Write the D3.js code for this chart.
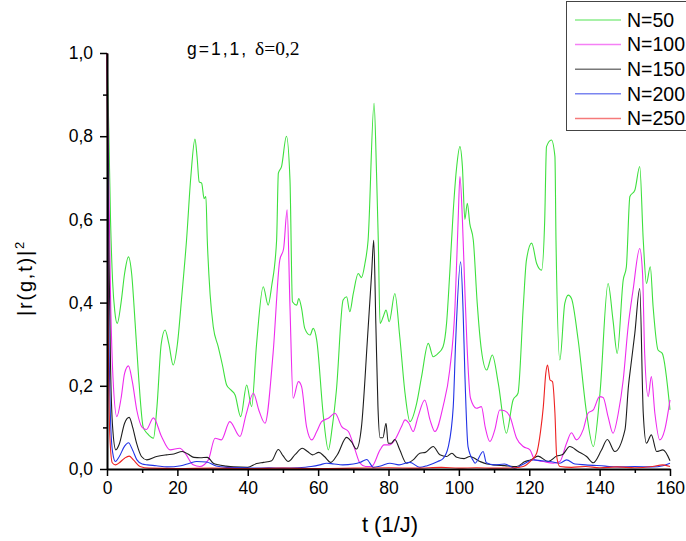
<!DOCTYPE html>
<html>
<head>
<meta charset="utf-8">
<script src="https://cdn.jsdelivr.net/npm/d3@7"></script>
<style>
  body { margin: 0; background: #fff; }
  svg { display: block; font-family: Arial, 'Liberation Sans', sans-serif; }
  .axis path, .axis line { stroke: #000; }
  .axis text { font-size: 17.5px; fill: #000; }
</style>
</head>
<body>
<svg id="chart"></svg>
<script>
// |r(g,t)|^2 versus t, one series per chain length N: [t, value]
const seriesNames = ['N=50', 'N=100', 'N=150', 'N=200', 'N=250'];
const seriesColors = ['#3ee03e', '#ee2cee', '#1e1e1e', '#2233e6', '#ee2222'];

const n50 = [[0,1.0],[0.5,0.82],[1,0.6],[1.6,0.45],[2.2,0.38],[2.9,0.35],[4,0.4],[5,0.47],[6.1,0.51],[7,0.47],[8,0.35],[9,0.22],[10.3,0.1],[11.5,0.085],[13.2,0.074],[14.2,0.15],[15.4,0.3],[16.5,0.334],[17.6,0.3],[18.8,0.25],[20,0.3],[21.3,0.42],[22.6,0.55],[23.8,0.7],[25,0.793],[25.6,0.75],[26.2,0.69],[26.9,0.687],[27.6,0.65],[28.1,0.655],[28.5,0.55],[29.3,0.42],[30.2,0.342],[31.6,0.294],[32.8,0.25],[34,0.202],[35.2,0.19],[36.4,0.178],[38,0.126],[39.7,0.202],[41.1,0.15],[42.5,0.3],[44.4,0.438],[45.8,0.394],[46.8,0.44],[48.2,0.55],[48.7,0.711],[49.6,0.727],[51,0.8],[52,0.695],[52.7,0.402],[53.9,0.394],[54.5,0.41],[55.3,0.386],[56.2,0.338],[57.7,0.322],[58.6,0.338],[59.6,0.31],[61.5,0.126],[62.9,0.046],[64,0.1],[65.2,0.19],[67.1,0.406],[68.1,0.414],[69,0.378],[70,0.422],[71.4,0.47],[72.3,0.46],[73.3,0.494],[74.2,0.55],[75.9,0.879],[76.6,0.711],[77.1,0.55],[77.6,0.35],[78.5,0.366],[79.3,0.382],[80.2,0.354],[81.8,0.422],[83.2,0.318],[84.7,0.182],[86.1,0.114],[88,0.158],[89.4,0.222],[91.3,0.302],[92.7,0.27],[94.1,0.278],[95.5,0.294],[96.5,0.35],[97.4,0.47],[98.4,0.62],[99.3,0.72],[100.3,0.775],[101,0.727],[101.7,0.6],[102.4,0.639],[103.1,0.59],[104.1,0.55],[105.2,0.4],[106.4,0.286],[107.9,0.238],[109.5,0.274],[111.2,0.206],[113.5,0.086],[115.4,0.166],[116.8,0.182],[118.3,0.39],[119.2,0.502],[120.7,0.543],[122.1,0.494],[123.5,0.478],[124.4,0.6],[124.9,0.775],[126.3,0.791],[127.3,0.751],[127.6,0.55],[128.7,0.262],[130.1,0.398],[131.1,0.418],[132,0.41],[133.9,0.31],[136.3,0.134],[138.2,0.054],[140.1,0.182],[142.4,0.446],[143.8,0.358],[145,0.278],[146.7,0.454],[147.6,0.486],[148.6,0.655],[150,0.67],[151.4,0.727],[152.4,0.55],[153.3,0.446],[154.4,0.486],[155.2,0.39],[156.6,0.286],[157.8,0.278],[160,0.142]];

const n100 = [[0,1.0],[0.5,0.7],[1,0.42],[1.7,0.22],[2.8,0.126],[4,0.17],[5,0.23],[6.1,0.248],[7.2,0.21],[8.5,0.14],[10,0.1],[11.2,0.095],[13.2,0.123],[15.5,0.078],[17.9,0.046],[20.7,0.05],[22.2,0.038],[24.5,0.01],[26.4,0.006],[28.8,0.022],[30.7,0.074],[32.5,0.07],[34.9,0.114],[37.8,0.078],[39.5,0.13],[41.6,0.182],[43.2,0.14],[44.9,0.11],[47.2,0.278],[49.1,0.502],[50.2,0.53],[51.2,0.623],[52,0.39],[52.9,0.17],[54.4,0.21],[55.3,0.198],[56.7,0.102],[58.2,0.07],[59.6,0.09],[61,0.114],[62.9,0.122],[64.8,0.134],[66.7,0.102],[68.6,0.09],[70.5,0.046],[71.9,0.014],[73.5,0.006],[75.2,0.006],[77.6,0.046],[78.7,0.058],[80.2,0.058],[81.8,0.07],[83.7,0.102],[84.7,0.118],[85.8,0.11],[87,0.09],[88.4,0.126],[90.3,0.166],[91.8,0.118],[93.2,0.09],[95.5,0.15],[97.4,0.238],[98.9,0.39],[99.8,0.6],[100.3,0.703],[101,0.6],[101.7,0.43],[102.3,0.3],[103.3,0.17],[105,0.146],[106.4,0.15],[107.5,0.1],[108.8,0.066],[110.2,0.094],[111.6,0.142],[113,0.14],[114.5,0.126],[116.4,0.074],[118.3,0.054],[120.2,0.046],[121.6,0.022],[124,0.018],[126.8,0.014],[128.7,0.018],[130.6,0.062],[132,0.087],[133.4,0.07],[135.3,0.094],[136.7,0.134],[138.2,0.142],[140,0.174],[141,0.172],[142.4,0.126],[143.8,0.086],[145.3,0.134],[146.7,0.214],[148.1,0.342],[149.5,0.43],[151.4,0.53],[152.2,0.47],[152.8,0.278],[153.8,0.174],[154.7,0.222],[155.7,0.134],[157.1,0.07],[158.5,0.094],[160,0.166]];

const n150 = [[0,1.0],[0.5,0.55],[1,0.25],[1.6,0.1],[2.5,0.046],[3.5,0.06],[5,0.11],[6.3,0.124],[7.3,0.1],[8.4,0.062],[9.8,0.03],[11.3,0.022],[14.1,0.03],[16.9,0.034],[19,0.036],[21.4,0.042],[23,0.036],[24.7,0.028],[26.5,0.027],[28.5,0.028],[30.2,0.014],[31.6,0.01],[33.8,0.007],[36,0.005],[40,0.004],[42.5,0.013],[44.5,0.016],[46.8,0.02],[48.7,0.047],[50,0.032],[51.5,0.018],[53.5,0.035],[55.5,0.05],[57,0.042],[58.4,0.034],[60.2,0.04],[61.8,0.03],[63.6,0.016],[65.5,0.035],[68.1,0.076],[69.5,0.065],[70.9,0.048],[72.3,0.1],[74,0.31],[75.2,0.47],[75.8,0.55],[76.4,0.35],[77,0.15],[77.6,0.075],[78.4,0.075],[79.3,0.11],[79.9,0.062],[80.8,0.062],[81.8,0.071],[83.2,0.046],[85.1,0.014],[87,0.022],[88.9,0.038],[90.5,0.04],[92.7,0.054],[94.6,0.034],[96.5,0.03],[98,0.038],[99.4,0.028],[101.5,0.025],[103.1,0.03],[106,0.018],[108,0.012],[109.8,0.01],[113,0.008],[116.4,0.006],[118.8,0.018],[120.5,0.022],[122.5,0.031],[125.4,0.018],[127.8,0.031],[129.5,0.035],[131.5,0.054],[133.9,0.042],[136.3,0.03],[138.2,0.015],[140.5,0.045],[142.2,0.071],[144.3,0.042],[147.2,0.094],[148.2,0.2],[148.9,0.25],[150,0.326],[151.4,0.434],[152.4,0.134],[153.3,0.062],[154.7,0.082],[156.2,0.042],[158,0.046],[160,0.02]];

const n200 = [[0,1.0],[0.4,0.45],[1,0.12],[1.6,0.04],[2.4,0.018],[3.5,0.03],[5,0.055],[6.1,0.063],[7.3,0.045],[8.5,0.022],[10,0.012],[11.5,0.01],[14,0.008],[17,0.005],[21,0.008],[23.5,0.014],[25.5,0.018],[28.3,0.017],[31,0.007],[34,0.004],[38,0.003],[42,0.002],[46,0.003],[50,0.002],[54,0.003],[58,0.006],[60.5,0.01],[62.4,0.014],[64.5,0.012],[67,0.01],[70,0.012],[72,0.016],[73.8,0.023],[75.7,0.004],[78,0.008],[80.4,0.014],[83,0.01],[86.1,0.016],[88.9,0.004],[91,0.008],[94,0.018],[95.5,0.025],[97,0.054],[98.4,0.15],[99.1,0.31],[100.5,0.498],[101.2,0.38],[101.7,0.23],[102.6,0.054],[104.1,0.02],[104.6,0.014],[106.9,0.042],[107.8,0.015],[110,0.01],[113,0.012],[115.8,0.002],[118,0.01],[121.1,0.022],[123.5,0.02],[125.9,0.018],[128.7,0.014],[130.6,0.022],[133,0.012],[136,0.01],[141.6,0.007],[145,0.005],[150,0.006],[155,0.005],[158,0.008],[160,0.014]];

const n250 = [[0,1.0],[0.3,0.4],[0.8,0.08],[1.5,0.015],[2.4,0.01],[3.5,0.015],[5,0.026],[6.3,0.031],[7.5,0.022],[9.4,0.006],[12,0.002],[20,0.001],[30,0.002],[40,0.001],[50,0.002],[60,0.001],[70,0.002],[80,0.003],[88,0.002],[95,0.004],[100,0.002],[105,0.003],[110,0.002],[116,0.003],[118.3,0.006],[120.5,0.02],[122.1,0.038],[123.2,0.09],[124,0.15],[124.7,0.23],[125.2,0.25],[125.9,0.214],[126.6,0.21],[127.3,0.134],[127.8,0.03],[128.7,0.006],[132,0.004],[136,0.006],[140,0.003],[145,0.005],[150,0.003],[155,0.006],[158,0.01],[160,0.006]];

const xTicks = [0, 20, 40, 60, 80, 100, 120, 140, 160];
const yTicks = [0, 0.2, 0.4, 0.6, 0.8, 1.0];

class LineChart {

  constructor(_config, _data) {
    this.config = {
      parentElement: _config.parentElement,
      containerWidth: _config.containerWidth || 686,
      containerHeight: _config.containerHeight || 541,
      margin: { top: 53, bottom: 72, right: 16, left: 107 }
    }
    this.data = _data;
    this.initVis();
  }

  initVis() {
    let vis = this;

    vis.width = vis.config.containerWidth - vis.config.margin.left - vis.config.margin.right;
    vis.height = vis.config.containerHeight - vis.config.margin.top - vis.config.margin.bottom;

    vis.svg = d3.select(vis.config.parentElement)
      .attr('width', vis.config.containerWidth)
      .attr('height', vis.config.containerHeight);

    vis.chart = vis.svg.append('g')
      .attr('transform', `translate(${vis.config.margin.left},${vis.config.margin.top})`);

    vis.xScale = d3.scaleLinear().domain([0, 160]).range([0, vis.width]);
    vis.yScale = d3.scaleLinear().domain([0, 1]).range([vis.height, 0]);

    vis.xAxis = d3.axisBottom(vis.xScale)
      .tickValues(xTicks)
      .tickSize(7)
      .tickSizeOuter(0)
      .tickPadding(6)
      .tickFormat(d => d);

    vis.yAxis = d3.axisLeft(vis.yScale)
      .tickValues(yTicks)
      .tickSize(7)
      .tickSizeOuter(0)
      .tickPadding(7)
      .tickFormat(d => d3.format('.1f')(d).replace('.', ','));

    // minor ticks half way between the labelled ones
    vis.xMinor = d3.axisBottom(vis.xScale)
      .tickValues(d3.range(10, 160, 20))
      .tickSize(4).tickSizeOuter(0).tickFormat('');
    vis.yMinor = d3.axisLeft(vis.yScale)
      .tickValues(d3.range(0.1, 1, 0.2))
      .tickSize(4).tickSizeOuter(0).tickFormat('');

    vis.line = d3.line()
      .x(d => vis.xScale(d[0]))
      .y(d => vis.yScale(d[1]))
      .curve(d3.curveMonotoneX);

    vis.updateVis();
  }

  updateVis() {
    let vis = this;

    vis.chart.selectAll('.chart-line')
      .data(vis.data)
      .join('path')
      .attr('class', 'chart-line')
      .attr('d', d => vis.line(d.values))
      .attr('fill', 'none')
      .attr('stroke', d => d.color)
      .attr('stroke-width', 1.1);

    vis.chart.append('g').attr('class', 'axis')
      .attr('transform', `translate(0,${vis.height})`)
      .call(vis.xMinor)
      .call(g => g.select('.domain').remove());
    vis.chart.append('g').attr('class', 'axis')
      .call(vis.yMinor)
      .call(g => g.select('.domain').remove());

    vis.xAxisG = vis.chart.append('g')
      .attr('class', 'axis x-axis')
      .attr('transform', `translate(0,${vis.height})`)
      .call(vis.xAxis);
    vis.yAxisG = vis.chart.append('g')
      .attr('class', 'axis y-axis')
      .call(vis.yAxis);

    vis.chart.selectAll('.axis .domain').attr('stroke-width', 2);
    vis.chart.selectAll('.axis line').attr('stroke-width', 1.5);

    this.renderVis();
  }

  renderVis() {
    let vis = this;

    // axis titles
    vis.svg.append('text')
      .attr('x', 390)
      .attr('y', 532)
      .attr('text-anchor', 'middle')
      .style('font-size', '22px')
      .text('t (1/J)');

    const yl = vis.svg.append('text')
      .attr('transform', 'translate(32,278) rotate(-90)')
      .attr('text-anchor', 'middle')
      .style('font-size', '20px')
      .style('letter-spacing', '1.8px');
    yl.append('tspan').text('|r(g,t)|');
    yl.append('tspan').attr('dy', -8).style('font-size', '13px').text('2');

    // parameter note
    const note = vis.svg.append('text')
      .attr('x', 187)
      .attr('y', 55);
    note.append('tspan').style('font-size', '17.5px').style('letter-spacing', '2px').text('g=1,1,');
    note.append('tspan').attr('x', 255).style('font-family', "'Liberation Serif', 'Times New Roman', serif")
      .style('font-size', '19.5px').text('δ=0,2');

    // legend
    const lg = vis.svg.append('g').attr('class', 'legend');
    lg.append('rect')
      .attr('x', 566.5).attr('y', 1.5)
      .attr('width', 130).attr('height', 129)
      .attr('fill', '#fff').attr('stroke', '#444').attr('stroke-width', 1);

    const rows = lg.selectAll('.row')
      .data(vis.data)
      .join('g')
      .attr('class', 'row')
      .attr('transform', (d, i) => `translate(0,${20 + i * 24.6})`);
    rows.append('line')
      .attr('x1', 575).attr('x2', 621)
      .attr('stroke', d => d.color)
      .attr('stroke-opacity', 0.6)
      .attr('stroke-width', 1.5);
    rows.append('text')
      .attr('x', 627)
      .attr('dy', '0.35em')
      .style('font-size', '19.5px')
      .text(d => d.name);
  }
}

const data = [n50, n100, n150, n200, n250].map((v, i) => ({
  name: seriesNames[i], color: seriesColors[i], values: v
}));

new LineChart({ parentElement: '#chart' }, data);
</script>
</body>
</html>
